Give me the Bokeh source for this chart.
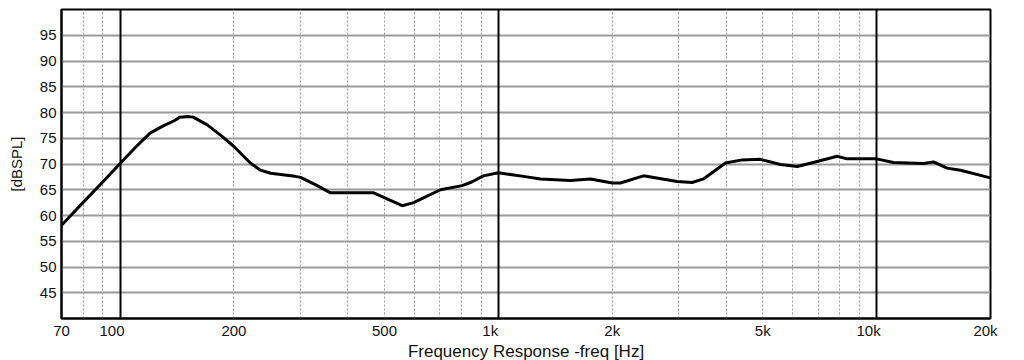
from bokeh.plotting import figure
from bokeh.models import FixedTicker, Grid, Range1d
from bokeh.embed import file_html
from bokeh.resources import INLINE

# Frequency response
freq = [70, 80, 90, 100, 110, 120, 130, 139, 144, 152, 156, 170, 185, 200, 221, 235, 250, 290, 300,
        332, 360, 468, 557, 597, 650, 703, 802, 850, 913, 1000, 1165, 1292, 1551, 1751, 2000,
        2102, 2419, 2969, 3253, 3485, 3984, 4411, 4930, 5568, 6164, 6963, 7863, 8356,
        10000, 11075, 13295, 14131, 15362, 16651, 19748, 20000]
spl = [58.1, 62.6, 66.5, 70.1, 73.3, 76.0, 77.4, 78.4, 79.1, 79.2, 79.1, 77.6, 75.5, 73.4, 70.2, 68.8, 68.2, 67.6, 67.4,
       65.8, 64.4, 64.4, 61.9, 62.5, 63.8, 65.0, 65.8, 66.5, 67.7, 68.3, 67.6, 67.1, 66.8, 67.1, 66.3,
       66.3, 67.7, 66.6, 66.4, 67.1, 70.2, 70.8, 70.9, 69.9, 69.5, 70.5, 71.5, 71.0,
       71.0, 70.3, 70.1, 70.4, 69.2, 68.8, 67.4, 67.3]

# tick labels; in the reference the decade labels sit slightly left of their lines
x_tick_pos = [70, 95.2, 200, 500, 952, 2000, 5000, 9520, 19400]
x_tick_labels = ["70", "100", "200", "500", "1k", "2k", "5k", "10k", "20k"]
x_minor_grid = [80, 90, 200, 300, 400, 500, 600, 700, 800, 900,
                2000, 3000, 4000, 5000, 6000, 7000, 8000, 9000]
x_major_grid = [100, 1000, 10000]
y_ticks = [45, 50, 55, 60, 65, 70, 75, 80, 85, 90, 95]

FONT = "Liberation Sans"

p = figure(frame_width=929, frame_height=309, x_axis_type="log",
           x_range=Range1d(70, 20000), y_range=Range1d(40, 100),
           output_backend="svg", toolbar_location=None,
           min_border_left=61, min_border_top=9, min_border_right=14, min_border_bottom=0)

p.background_fill_color = "white"
p.border_fill_color = "white"
p.outline_line_color = "black"
p.outline_line_width = 2

# axes
p.xaxis.ticker = FixedTicker(ticks=x_tick_pos)
p.xaxis.major_label_overrides = {t: l for t, l in zip(x_tick_pos, x_tick_labels)}
p.yaxis.ticker = FixedTicker(ticks=y_ticks)
for ax in (p.xaxis, p.yaxis):
    ax.major_tick_line_color = None
    ax.minor_tick_line_color = None
    ax.major_tick_out = 0
    ax.major_tick_in = 0
    ax.minor_tick_out = 0
    ax.minor_tick_in = 0
    ax.axis_line_color = "black"
    ax.axis_line_width = 2
    ax.major_label_text_font = FONT
    ax.major_label_text_font_size = "15px"
    ax.major_label_text_color = "#111111"
    ax.axis_label_text_font = FONT
    ax.axis_label_text_font_style = "normal"
    ax.axis_label_text_color = "#111111"
p.xaxis.major_label_standoff = 3
p.yaxis.major_label_standoff = 5
p.xaxis.axis_label = "Frequency Response -freq [Hz]"
p.xaxis.axis_label_text_font_size = "17px"
p.xaxis.axis_label_standoff = 0
p.yaxis.axis_label = "[dBSPL]"
p.yaxis.axis_label_text_font_size = "15px"
p.yaxis.axis_label_standoff = 12

# grids
p.ygrid.ticker = FixedTicker(ticks=y_ticks)
p.ygrid.grid_line_color = "#9a9a9a"
p.ygrid.grid_line_width = 2
p.xgrid.ticker = FixedTicker(ticks=x_minor_grid)
p.xgrid.grid_line_color = "#9a9a9a"
p.xgrid.grid_line_width = 1
p.xgrid.grid_line_dash = "2 2"
p.add_layout(Grid(dimension=0, ticker=FixedTicker(ticks=x_major_grid),
                  grid_line_color="black", grid_line_width=2))

p.line(freq, spl, line_color="black", line_width=3)

open("out.html", "w").write(file_html(p, INLINE))
